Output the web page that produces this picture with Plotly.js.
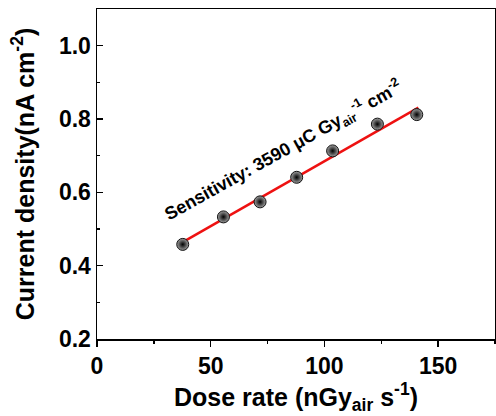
<!DOCTYPE html>
<html><head><meta charset="utf-8">
<script src="https://cdn.plot.ly/plotly-3.0.1.min.js"></script>
<style>html,body{margin:0;padding:0;background:#fff}</style>
</head><body>
<div id="chart" style="width:496px;height:416px"></div>
<script>
const doseRate = [37.7, 55.6, 71.7, 87.8, 103.6, 123.3, 140.6];
const currentDensity = [0.458, 0.533, 0.574, 0.641, 0.713, 0.786, 0.812];
const fitX = [37.7, 141.3];
const fitY = [0.464, 0.831];
const xTickVals = [0, 50, 100, 150];
const yTickVals = [0.2, 0.4, 0.6, 0.8, 1.0];
const yTickText = ['0.2', '0.4', '0.6', '0.8', '1.0'];
const sensitivityLabel = "<b>Sensitivity: 3590 μC Gy<sub>air</sub><sup>-1</sup> cm<sup>-2</sup></b>";

const F = "Arial, 'Liberation Sans', sans-serif";
const traces = [
  {x: fitX, y: fitY, mode: 'lines', type: 'scatter',
   line: {color: '#ee1111', width: 2.5}, hoverinfo: 'skip'},
  {x: doseRate, y: currentDensity, mode: 'markers', type: 'scatter',
   marker: {size: 12, color: '#a0a0a0', gradient: {type: 'radial', color: '#000'},
            line: {width: 1, color: '#111'}}}
];
const layout = {
  width: 496, height: 416,
  margin: {l: 97, r: 1, t: 9, b: 77},
  showlegend: false,
  paper_bgcolor: '#fff', plot_bgcolor: '#fff',
  font: {family: F, color: '#000'},
  xaxis: {
    range: [0, 175], showgrid: false, zeroline: false,
    showline: true, linecolor: '#000', linewidth: 1.5, mirror: true,
    ticks: 'outside', ticklen: 6, tickwidth: 1.5, tickcolor: '#000',
    tickvals: xTickVals,
    minor: {tickvals: [25, 75, 125, 175], ticks: 'outside', ticklen: 3, tickwidth: 1.5, tickcolor: '#000'},
    tickfont: {family: F, size: 23, weight: 'bold'},
    title: {text: "<b>Dose rate (nGy<sub>air</sub> s<sup>-1</sup>)</b>", font: {family: F, size: 25, weight: 'bold'}, standoff: 6}
  },
  yaxis: {
    range: [0.2, 1.1], showgrid: false, zeroline: false,
    showline: true, linecolor: '#000', linewidth: 1.5, mirror: true,
    ticks: 'inside', ticklen: 6, tickwidth: 1.5, tickcolor: '#000',
    tickvals: yTickVals, ticktext: yTickText,
    minor: {tickvals: [0.3, 0.5, 0.7, 0.9], ticks: 'inside', ticklen: 3, tickwidth: 1.5, tickcolor: '#000'},
    tickfont: {family: F, size: 23, weight: 'bold'},
    title: {text: "<b>Current density(nA cm<sup>-2</sup>)</b>", font: {family: F, size: 25, weight: 'bold'}, standoff: 17}
  },
  annotations: [{
    x: 81.8, y: 0.715, xref: 'x', yref: 'y', showarrow: false,
    text: sensitivityLabel, textangle: -29,
    font: {family: F, size: 18, weight: 'bold', color: '#000'}
  }]
};
Plotly.newPlot('chart', traces, layout, {staticPlot: true, displayModeBar: false});
</script>
</body></html>
